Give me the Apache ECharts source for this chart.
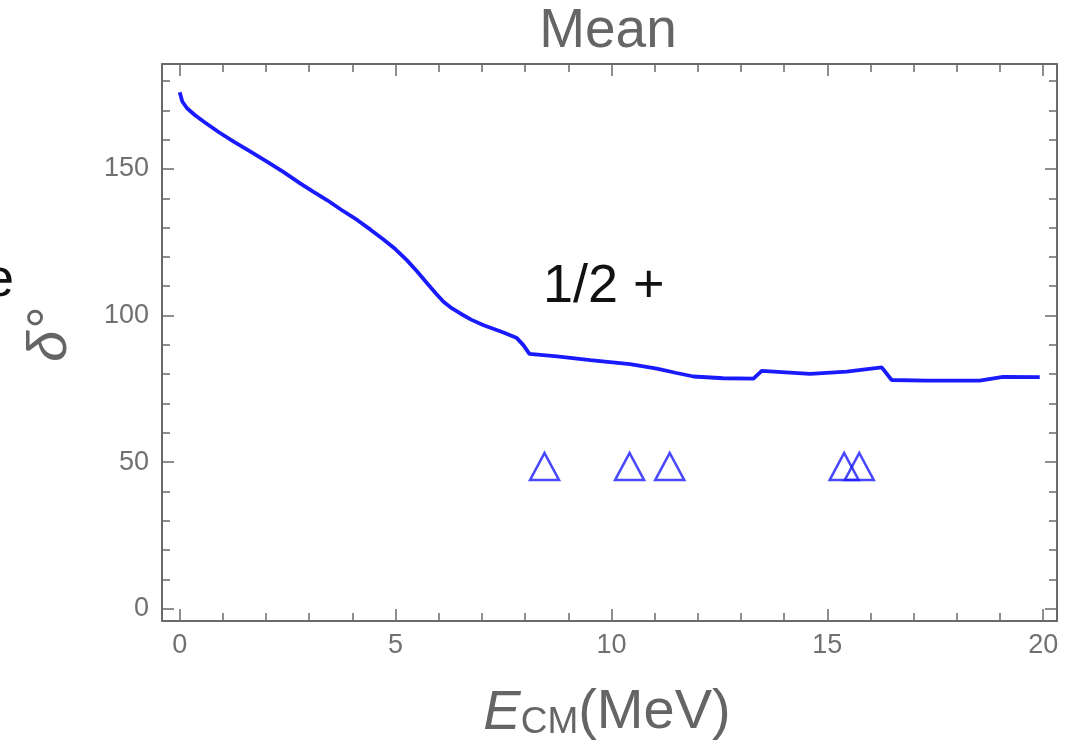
<!DOCTYPE html>
<html>
<head>
<meta charset="utf-8">
<script src="https://cdn.jsdelivr.net/npm/echarts@6/dist/echarts.min.js"></script>
<style>
  html, body { margin: 0; padding: 0; background: #ffffff; }
  #chart { width: 1077px; height: 749px; }
</style>
</head>
<body>
<div id="chart"></div>
<script>
// Mean phase shift (degrees) versus centre-of-mass energy (MeV), 1/2+ channel
const energy = [0.00, 0.06, 0.17, 0.35, 0.56, 0.90, 1.25, 1.65, 2.02, 2.40, 2.79, 3.10, 3.41, 3.75,
                4.11, 4.42, 4.72, 5.00, 5.26, 5.50, 5.73, 5.93, 6.11, 6.30, 6.50, 6.75, 7.04, 7.50,
                7.81, 7.96, 8.10, 8.74, 9.51, 10.43, 11.05, 11.51, 11.90, 12.59, 13.29, 13.48,
                14.60, 15.45, 16.26, 16.49, 17.30, 18.53, 19.07, 19.92];
const phase  = [176.2, 173.0, 170.7, 168.4, 166.1, 162.6, 159.3, 155.8, 152.5, 149.0, 145.1, 142.2,
                139.4, 136.0, 132.6, 129.3, 125.9, 122.6, 118.9, 115.0, 111.0, 107.6, 104.7, 102.5,
                100.7, 98.6, 96.7, 94.2, 92.3, 89.9, 86.9, 86.1, 84.8, 83.4, 81.9, 80.4, 79.2,
                78.6, 78.5, 81.1, 80.1, 80.9, 82.3, 78.0, 77.8, 77.8, 79.1, 79.0];

// Resonance positions marked along the bottom of the plot
const resonanceE = [8.45, 10.42, 11.35, 15.39, 15.74];
const resonanceY = [48.5, 48.5, 48.5, 48.5, 48.5];

// Axis ranges and tick spacing
const xRange = [-0.41, 20.32];
const yRange = [-4.2, 185.8];
const xMajor = 5;
const yMajor = 50;

const frameColor = '#6a6a6a';
const labelColor = '#707070';
const fontFamily = '"Liberation Sans", Arial, sans-serif';

const curve = energy.map((e, i) => [e, phase[i]]);
const markers = resonanceE.map((e, i) => [e, resonanceY[i]]);

function frameAxis(pos, range, major, withLabels) {
  const horizontal = pos === 'bottom' || pos === 'top';
  return {
    type: 'value',
    position: pos,
    min: range[0],
    max: range[1],
    minInterval: major,
    maxInterval: major,
    axisLine: { show: true, onZero: false, lineStyle: { color: frameColor, width: 2 } },
    axisTick: { show: true, inside: true, length: 12, lineStyle: { color: frameColor, width: 1.5 } },
    minorTick: { show: true, splitNumber: 5, length: 8, lineStyle: { color: frameColor, width: 1.5 } },
    splitLine: { show: false },
    minorSplitLine: { show: false },
    axisLabel: {
      show: withLabels,
      showMinLabel: false,
      showMaxLabel: false,
      margin: horizontal ? 11 : 13,
      color: labelColor,
      fontSize: 27,
      fontFamily: fontFamily
    }
  };
}

const chart = echarts.init(document.getElementById('chart'), null, { renderer: 'canvas' });

chart.setOption({
  animation: false,
  backgroundColor: '#ffffff',
  grid: { left: 162, right: 20, top: 64, bottom: 128, containLabel: false, outerBoundsMode: 'none' },
  xAxis: [
    frameAxis('bottom', xRange, xMajor, true),
    frameAxis('top', xRange, xMajor, false)
  ],
  yAxis: [
    frameAxis('left', yRange, yMajor, true),
    frameAxis('right', yRange, yMajor, false)
  ],
  series: [
    {
      type: 'line',
      data: curve,
      showSymbol: false,
      smooth: false,
      lineStyle: { color: '#1a1aff', width: 3.8 },
      z: 3
    },
    {
      type: 'scatter',
      data: markers,
      symbol: 'triangle',
      symbolSize: [29, 27],
      itemStyle: { color: 'transparent', borderColor: '#1a1aff', borderWidth: 2.5 },
      z: 4
    }
  ],
  graphic: [
    {
      type: 'text', x: 608, y: 32,
      style: { text: 'Mean', fill: '#656565', font: '55px ' + fontFamily, textAlign: 'center', textVerticalAlign: 'middle' }
    },
    {
      type: 'text', x: 543, y: 287,
      style: { text: '1/2 +', fill: '#111111', font: '54px ' + fontFamily, textAlign: 'left', textVerticalAlign: 'middle' }
    },
    {
      type: 'text', x: 14, y: 281,
      style: { text: 'e', fill: '#111111', font: '54px ' + fontFamily, textAlign: 'right', textVerticalAlign: 'middle' }
    },
    {
      type: 'text', x: 50, y: 335, rotation: Math.PI / 2,
      style: { text: 'δ°', fill: '#656565', font: 'italic 56px ' + fontFamily, textAlign: 'center', textVerticalAlign: 'middle' }
    },
    {
      type: 'text', x: 607, y: 713,
      style: {
        text: '{e|E}{s|CM}{n|(MeV)}',
        fill: '#656565',
        textAlign: 'center',
        textVerticalAlign: 'middle',
        rich: {
          e: { fontSize: 56, fontStyle: 'italic', fontFamily: fontFamily, fill: '#656565', verticalAlign: 'bottom' },
          s: { fontSize: 37, fontFamily: fontFamily, fill: '#656565', verticalAlign: 'bottom', padding: [0, 0, 0, 0] },
          n: { fontSize: 56, fontFamily: fontFamily, fill: '#656565', verticalAlign: 'bottom' }
        }
      }
    }
  ]
});
</script>
</body>
</html>
